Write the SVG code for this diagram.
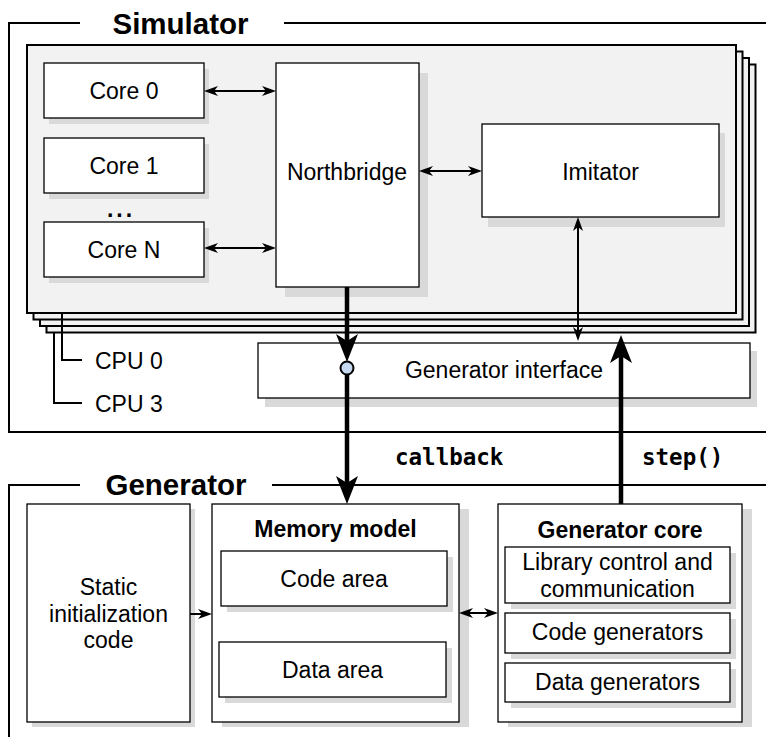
<svg xmlns="http://www.w3.org/2000/svg" width="766" height="744" viewBox="0 0 766 744">
<style>
.t{font-family:"Liberation Sans",Arial,sans-serif;font-size:23px;fill:#000;text-anchor:middle}
.b{font-weight:bold}
.h{font-family:"Liberation Sans",Arial,sans-serif;font-size:29.5px;font-weight:bold;fill:#000}
.m{font-family:"DejaVu Sans Mono","Liberation Mono",monospace;font-size:22.5px;font-weight:bold;fill:#000}
.box{fill:#fff;stroke:#000;stroke-width:1.3}
.sh{fill:#d9d9d9}
.cpu{fill:#f2f2f2;stroke:#000;stroke-width:2}
.fr{fill:none;stroke:#000;stroke-width:2}
.ln{fill:none;stroke:#000;stroke-width:2}
.thin{fill:none;stroke:#000;stroke-width:2;marker-end:url(#a)}
.dbl{fill:none;stroke:#000;stroke-width:2;marker-start:url(#a);marker-end:url(#a)}
.thick{fill:none;stroke:#000;stroke-width:4.5;marker-end:url(#b)}
</style>
<defs>
<marker id="a" viewBox="0 0 14 10" refX="4" refY="5" markerWidth="14" markerHeight="10" markerUnits="userSpaceOnUse" orient="auto-start-reverse"><path d="M0,0 L14,5 L0,10 L4,5 z" fill="#000"/></marker>
<marker id="b" viewBox="0 0 28 22" refX="7" refY="11" markerWidth="28" markerHeight="22" markerUnits="userSpaceOnUse" orient="auto"><path d="M0,0 L28,11 L0,22 L7,11 z" fill="#000"/></marker>
</defs>

<g id="simulator-frame">
<path class="fr" d="M80,23 H9 V432 H780 M284,23 H780"/>
<text class="h" x="180.5" y="34" text-anchor="middle">Simulator</text>
</g>

<g id="cpu-stack">
<rect class="cpu" x="46.5" y="64.5" width="709" height="268"/>
<rect class="cpu" x="40" y="58" width="709" height="268"/>
<rect class="cpu" x="33.5" y="51.5" width="709" height="268"/>
<rect class="cpu" x="27" y="45" width="709" height="268"/>
</g>

<g id="cpu-labels">
<path class="ln" d="M62,313 V360 H82 M54,332 V403 H82"/>
<text class="t" x="95" y="369" style="text-anchor:start">CPU 0</text>
<text class="t" x="95" y="412" style="text-anchor:start">CPU 3</text>
</g>

<g id="core0">
<rect class="sh" x="49" y="69" width="160" height="55"/>
<rect class="box" x="44" y="63" width="160" height="55"/>
<text class="t" x="124" y="99">Core 0</text>
</g>
<g id="core1">
<rect class="sh" x="49" y="144" width="160" height="55"/>
<rect class="box" x="44" y="138" width="160" height="55"/>
<text class="t" x="124" y="174">Core 1</text>
</g>
<g id="dots">
<text class="t b" x="121" y="217" style="letter-spacing:3px">...</text>
</g>
<g id="coreN">
<rect class="sh" x="49" y="228" width="160" height="55"/>
<rect class="box" x="44" y="222" width="160" height="55"/>
<text class="t" x="124" y="258">Core N</text>
</g>

<g id="northbridge">
<rect class="sh" x="285" y="73" width="143" height="224"/>
<rect class="box" x="276" y="63" width="143" height="224"/>
<text class="t" x="347" y="180">Northbridge</text>
</g>

<g id="imitator">
<rect class="sh" x="488" y="133" width="237" height="94"/>
<rect class="box" x="482" y="124" width="237" height="93"/>
<text class="t" x="600.5" y="180">Imitator</text>
</g>

<g id="generator-interface">
<rect class="sh" x="265" y="351" width="492" height="56"/>
<rect class="box" x="258" y="343" width="492" height="55"/>
<text class="t" x="504" y="378">Generator interface</text>
</g>

<g id="generator-frame">
<path class="fr" d="M80,485 H9 V737 M272,485 H780"/>
<text class="h" x="176" y="495" text-anchor="middle">Generator</text>
</g>

<g id="static-init">
<rect class="sh" x="32" y="509" width="163" height="218"/>
<rect class="box" x="27" y="504" width="163" height="218"/>
<text class="t" x="108.5" y="595">Static</text>
<text class="t" x="108.5" y="622">initialization</text>
<text class="t" x="108.5" y="648">code</text>
</g>

<g id="memory-model">
<rect class="sh" x="222" y="509" width="247" height="218"/>
<rect class="box" x="212" y="504" width="247" height="218"/>
<text class="t b" x="335.5" y="537">Memory model</text>
</g>
<g id="code-area">
<rect class="sh" x="227" y="557" width="226" height="55"/>
<rect class="box" x="221" y="551" width="226" height="55"/>
<text class="t" x="334" y="587">Code area</text>
</g>
<g id="data-area">
<rect class="sh" x="225" y="648" width="227" height="55"/>
<rect class="box" x="219" y="642" width="227" height="55"/>
<text class="t" x="332.5" y="678">Data area</text>
</g>

<g id="generator-core">
<rect class="sh" x="508" y="509" width="244" height="218"/>
<rect class="box" x="498" y="504" width="244" height="218"/>
<text class="t b" x="620" y="538">Generator core</text>
</g>
<g id="library-control">
<rect class="sh" x="511" y="553" width="225" height="56"/>
<rect class="box" x="505" y="547" width="225" height="56"/>
<text class="t" x="617.5" y="570">Library control and</text>
<text class="t" x="617.5" y="597">communication</text>
</g>
<g id="code-generators">
<rect class="sh" x="511" y="619" width="225" height="40"/>
<rect class="box" x="505" y="613" width="225" height="40"/>
<text class="t" x="617.5" y="640">Code generators</text>
</g>
<g id="data-generators">
<rect class="sh" x="511" y="669" width="225" height="39"/>
<rect class="box" x="505" y="663" width="225" height="39"/>
<text class="t" x="617.5" y="690">Data generators</text>
</g>

<g id="connectors">
<path class="dbl" d="M214,91 H266"/>
<path class="dbl" d="M214,248 H266"/>
<path class="dbl" d="M429,171 H472"/>
<path class="dbl" d="M578,227 V331"/>
<path class="thin" d="M190,614 H202"/>
<path class="dbl" d="M469,613 H488"/>
<path class="thick" d="M347,287 V341"/>
<circle cx="347" cy="368" r="6.5" fill="#c6d9f0" stroke="#000" stroke-width="2"/>
<path class="thick" d="M347,374.5 V483"/>
<path class="thick" d="M621,504 V356"/>
<text class="m" x="395" y="465">callback</text>
<text class="m" x="642" y="465">step()</text>
</g>
</svg>
